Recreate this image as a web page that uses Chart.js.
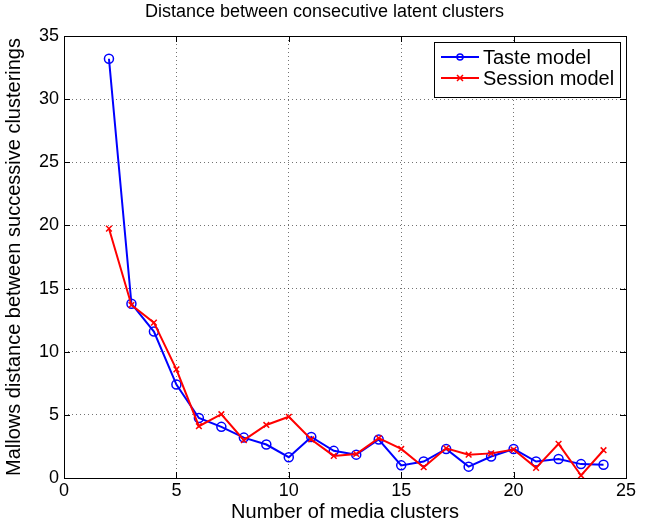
<!DOCTYPE html>
<html>
<head>
<meta charset="utf-8">
<script src="https://cdn.jsdelivr.net/npm/chart.js@4.4.1/dist/chart.umd.min.js"></script>
<style>
  body { margin: 0; background: #fff; }
  canvas { display: block; }
</style>
</head>
<body>
<canvas id="c" width="649" height="524"></canvas>
<script>
// number of media clusters
var clusters = [2, 3, 4, 5, 6, 7, 8, 9, 10, 11, 12, 13, 14, 15, 16, 17, 18, 19, 20, 21, 22, 23, 24];
var tasteModel = [33.2, 13.8, 11.6, 7.4, 4.75, 4.05, 3.2, 2.65, 1.65, 3.25, 2.15, 1.85, 3.05, 1.0, 1.3, 2.3, 0.9, 1.7, 2.3, 1.3, 1.5, 1.1, 1.05];
var sessionModel = [19.75, 13.7, 12.3, 8.6, 4.1, 5.05, 3.0, 4.2, 4.85, 3.05, 1.75, 1.9, 3.15, 2.3, 0.85, 2.35, 1.85, 1.95, 2.25, 0.8, 2.7, 0.2, 2.2];
var xTicks = [0, 5, 10, 15, 20, 25];
var yTicks = [0, 5, 10, 15, 20, 25, 30, 35];

var FONT = "'Liberation Sans', Arial, Helvetica, sans-serif";
var TITLE = 'Distance between consecutive latent clusters';

function pts(vals) {
  return clusters.map(function (c, i) { return { x: c, y: vals[i] }; });
}

// MATLAB style box with inward ticks, title, and the legend inside the axes
var boxPlugin = {
  id: 'box',
  afterDatasetsDraw: function (chart) {
    var ctx = chart.ctx, a = chart.chartArea;
    var xs = chart.scales.x, ys = chart.scales.y;
    ctx.save();
    ctx.strokeStyle = '#000';
    ctx.lineWidth = 1;
    ctx.beginPath();
    xTicks.forEach(function (t) {
      var px = Math.round(xs.getPixelForValue(t)) + 0.5;
      ctx.moveTo(px, a.bottom); ctx.lineTo(px, a.bottom - 6);
      ctx.moveTo(px, a.top); ctx.lineTo(px, a.top + 6);
    });
    yTicks.forEach(function (t) {
      var py = Math.round(ys.getPixelForValue(t)) + 0.5;
      ctx.moveTo(a.left, py); ctx.lineTo(a.left + 6, py);
      ctx.moveTo(a.right, py); ctx.lineTo(a.right - 6, py);
    });
    ctx.stroke();
    ctx.strokeRect(Math.round(a.left) + 0.5, Math.round(a.top) + 0.5,
      Math.round(a.right - a.left), Math.round(a.bottom - a.top));

    // title
    ctx.fillStyle = '#000';
    ctx.font = '18px ' + FONT;
    ctx.textAlign = 'center';
    ctx.textBaseline = 'middle';
    ctx.fillText(TITLE, chart.width / 2, 12);

    // legend
    var lx = 434, ly = 42, lw = 186, lh = 55;
    ctx.fillStyle = '#fff';
    ctx.fillRect(lx, ly, lw, lh);
    ctx.strokeRect(lx + 0.5, ly + 0.5, lw, lh);
    var rows = [
      { label: 'Taste model', color: '#0000ff', y: ly + 15, marker: 'o' },
      { label: 'Session model', color: '#ff0000', y: ly + 36, marker: 'x' }
    ];
    rows.forEach(function (r) {
      ctx.strokeStyle = r.color;
      ctx.lineWidth = 2;
      ctx.beginPath();
      ctx.moveTo(lx + 7, r.y); ctx.lineTo(lx + 45, r.y);
      ctx.stroke();
      ctx.lineWidth = 1.5;
      ctx.beginPath();
      if (r.marker === 'o') {
        ctx.arc(lx + 26, r.y, 3, 0, Math.PI * 2);
      } else {
        ctx.moveTo(lx + 23, r.y - 3); ctx.lineTo(lx + 29, r.y + 3);
        ctx.moveTo(lx + 29, r.y - 3); ctx.lineTo(lx + 23, r.y + 3);
      }
      ctx.stroke();
      ctx.fillStyle = '#000';
      ctx.font = '20px ' + FONT;
      ctx.textBaseline = 'middle';
      ctx.textAlign = 'left';
      ctx.fillText(r.label, lx + 49, r.y + 1);
    });
    ctx.restore();
  }
};

var ctx = document.getElementById('c').getContext('2d');

var chart = new Chart(ctx, {
  type: 'line',
  data: {
    datasets: [
      {
        label: 'Taste model',
        data: pts(tasteModel),
        borderColor: '#0000ff',
        backgroundColor: 'rgba(0,0,0,0)',
        borderWidth: 2,
        pointStyle: 'circle',
        pointRadius: 4.5,
        pointBorderWidth: 1.5,
        pointBorderColor: '#0000ff',
        pointBackgroundColor: 'rgba(0,0,0,0)',
        tension: 0,
        order: 1
      },
      {
        label: 'Session model',
        data: pts(sessionModel),
        borderColor: '#ff0000',
        backgroundColor: 'rgba(0,0,0,0)',
        borderWidth: 2,
        pointStyle: 'crossRot',
        pointRadius: 4,
        pointBorderWidth: 1.5,
        pointBorderColor: '#ff0000',
        tension: 0,
        order: 0
      }
    ]
  },
  options: {
    responsive: false,
    animation: false,
    devicePixelRatio: 1,
    layout: { padding: { left: 0, right: 23, top: 36, bottom: 0 } },
    plugins: {
      legend: { display: false },
      tooltip: { enabled: false },
      title: { display: false }
    },
    scales: {
      x: {
        type: 'linear',
        min: 0,
        max: 25,
        afterBuildTicks: function (s) { s.ticks = xTicks.map(function (v) { return { value: v }; }); },
        afterFit: function (s) { s.height = 46; },
        ticks: { color: '#000', font: { family: FONT, size: 18 }, padding: 2, maxRotation: 0 },
        grid: { color: 'rgba(0,0,0,0.55)', lineWidth: 1, drawTicks: false },
        border: { display: false, dash: [1, 3] },
        title: {
          display: true,
          text: 'Number of media clusters',
          color: '#000',
          font: { family: FONT, size: 20 },
          padding: { top: 0, bottom: 0 }
        }
      },
      y: {
        type: 'linear',
        min: 0,
        max: 35,
        afterBuildTicks: function (s) { s.ticks = yTicks.map(function (v) { return { value: v }; }); },
        afterFit: function (s) { s.width = 64; },
        ticks: { color: '#000', font: { family: FONT, size: 18 }, padding: 5 },
        grid: { color: 'rgba(0,0,0,0.55)', lineWidth: 1, drawTicks: false },
        border: { display: false, dash: [1, 3] },
        title: {
          display: true,
          text: 'Mallows distance between successive clusterings',
          color: '#000',
          font: { family: FONT, size: 20 },
          padding: { top: 2, bottom: 0 }
        }
      }
    }
  },
  plugins: [boxPlugin]
});
</script>
</body>
</html>
